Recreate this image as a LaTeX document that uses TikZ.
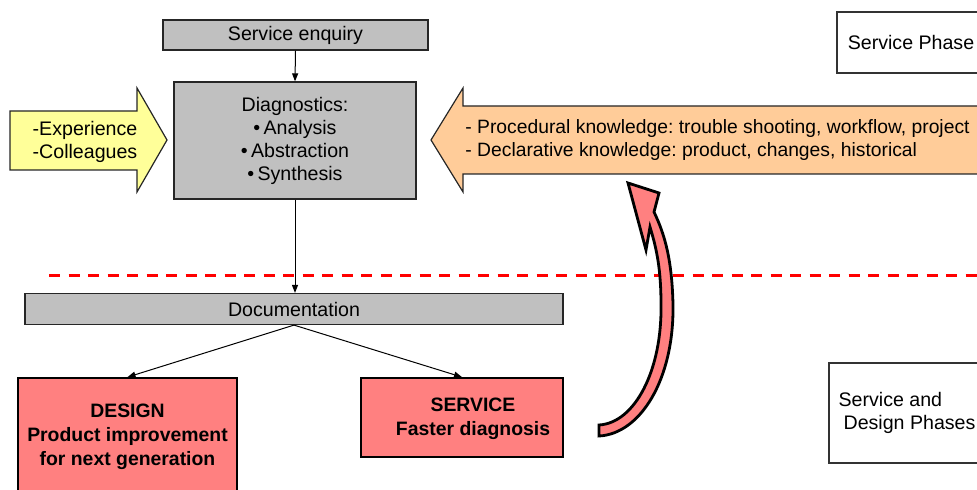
\documentclass[tikz,border=0pt]{standalone}
\usepackage{fontspec}
\setmainfont{Liberation Sans}
\usepackage{tikz}
\usetikzlibrary{arrows.meta}
\frenchspacing

\definecolor{boxgray}{HTML}{C0C0C0}
\definecolor{noteyellow}{HTML}{FFFF99}
\definecolor{notepeach}{HTML}{FFCC99}
\definecolor{salmon}{HTML}{FF8080}

\begin{document}
\begin{tikzpicture}[x=0.5pt, y=-0.5pt,
  every node/.style={font=\fontsize{9.8}{11.5}\selectfont, inner sep=0pt},
  graybox/.style={draw=black!85, fill=boxgray, line width=0.6pt},
  outbox/.style={draw=black, fill=salmon, line width=0.9pt, align=center,
    font=\fontsize{9.7}{12}\selectfont\bfseries},
  phasebox/.style={draw=black!80, fill=white, line width=0.6pt},
  conn/.style={-{Triangle[length=4pt,width=3pt]}, line width=0.5pt}]
  \useasboundingbox (0,0) rectangle (977,490);
  \clip (0,0) rectangle (977,490);

  % === Service phase: enquiry and diagnostics ===
  \node[graybox, minimum width=132.5pt, minimum height=15pt] (enquiry)
    at (295.5,35) {Service enquiry};
  \node[graybox, minimum width=121pt, minimum height=58.5pt, align=center] (diag)
    at (295,140.5)
    {Diagnostics:\\\textbullet\,Analysis\\\textbullet\,Abstraction\\\textbullet\,Synthesis};
  \draw[conn] (enquiry.south) -- (diag.north);

  % Input arrow on the left
  \filldraw[fill=noteyellow, draw=black!85, line width=0.6pt]
    (10,111) -- (137,111) -- (137,88) -- (167,140) -- (137,192)
    -- (137,170) -- (10,170) -- cycle;
  \node[align=left] (sources) at (85,141.5) {-Experience\\-Colleagues};

  % Knowledge arrow on the right
  \filldraw[fill=notepeach, draw=black!85, line width=0.6pt]
    (990,106) -- (463,106) -- (463,88) -- (431,140) -- (463,192)
    -- (463,174) -- (990,174);
  \node[anchor=west, align=left, font=\fontsize{9.65}{11.5}\selectfont] (knowledge)
    at (465,140.5)
    {- Procedural knowledge: trouble shooting, workflow, project\\
     - Declarative knowledge: product, changes, historical};

  \node[phasebox, minimum width=74pt, minimum height=30.5pt] (svcphase)
    at (911,42.5) {Service Phase};

  % Phase border
  \draw[red, line width=1.5pt, dash pattern=on 5.5pt off 4.25pt]
    (49,276) -- (977,276);

  % === Service and design phases ===
  \node[graybox, minimum width=269pt, minimum height=15.5pt] (doc)
    at (294,309) {Documentation};
  \draw[conn] (diag.south) -- (diag.south |- doc.north);

  \node[outbox, minimum width=109.5pt, minimum height=59pt] (design)
    at (127.5,437)
    {DESIGN\\Product improvement\\for next generation};
  \node[outbox, minimum width=101pt, minimum height=39.5pt] (service)
    at (462,417.5) {};
  \node[align=center, font=\fontsize{9.7}{12}\selectfont\bfseries] (servicetxt)
    at (473,418.5) {SERVICE\\Faster diagnosis};
  \draw[conn] (doc.south) -- (design.north);
  \draw[conn] (doc.south) -- (service.north);

  % Feedback arrow back to the service phase
  \filldraw[fill=salmon, draw=black, line width=1.4pt, line join=miter]
    (599,436) .. controls (640,434) and (674,380) .. (673,305)
    .. controls (672,260) and (665,235) .. (654,212)
    -- (659,193) -- (628,183) -- (646,250) -- (650,227)
    .. controls (657,250) and (661,270) .. (661,305)
    .. controls (662,370) and (635,423) .. (599,425) -- cycle;

  \node[phasebox, minimum width=78pt, minimum height=50pt, align=left] (bothphases)
    at (907,413) {Service and\\\hspace*{2.5pt}Design Phases};
\end{tikzpicture}
\end{document}
